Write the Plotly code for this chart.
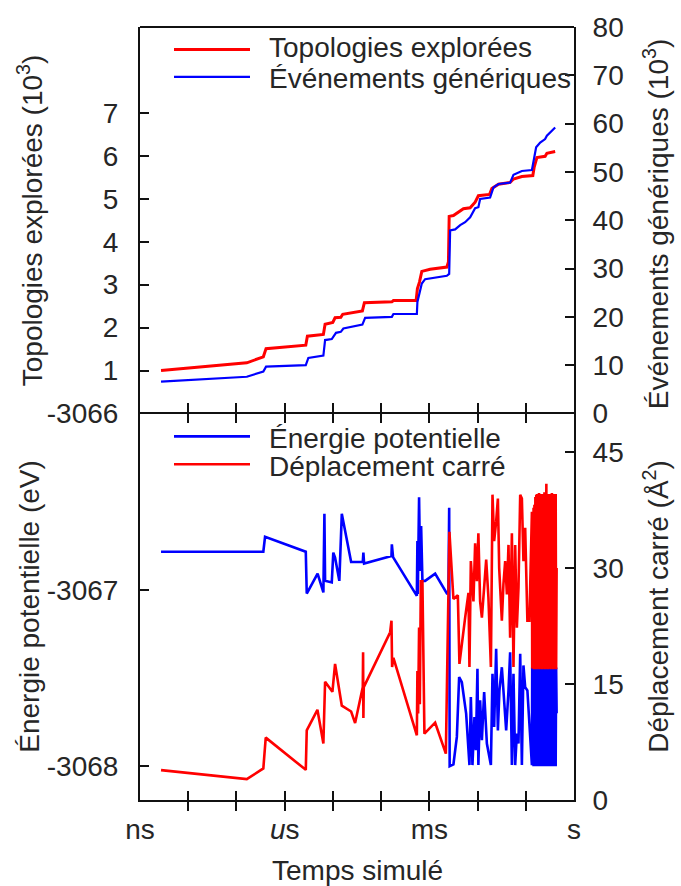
import plotly.graph_objects as go

# ---------------- data ----------------
# top panel: topologies explored (10^3) and generic events (10^3) vs simulated time (s)
t_topo = [2.73e-9, 1.64e-7, 3.61e-7, 4.11e-7, 2.74e-6, 2.96e-6, 6.35e-6, 6.89e-6, 9.95e-6, 1.11e-5,
          1.46e-5, 1.60e-5, 4.09e-5, 4.50e-5, 1.67e-4, 1.80e-4, 5.32e-4, 5.66e-4, 6.24e-4, 6.98e-4,
          1.04e-3, 2.31e-3, 2.49e-3, 2.58e-3, 3.16e-3, 4.36e-3, 5.09e-3, 7.02e-3, 8.91e-3, 1.04e-2,
          1.77e-2, 1.98e-2, 2.72e-2, 4.74e-2, 5.56e-2, 8.30e-2, 0.140, 0.149, 0.170, 0.252,
          0.274, 0.407]
topologies = [1.00, 1.18, 1.32, 1.51, 1.59, 1.80, 1.84, 2.08, 2.12, 2.23,
              2.24, 2.31, 2.39, 2.58, 2.60, 2.63, 2.63, 2.91, 3.06, 3.31,
              3.36, 3.41, 3.53, 4.59, 4.61, 4.73, 4.77, 4.79, 4.92, 5.07,
              5.10, 5.24, 5.34, 5.38, 5.46, 5.52, 5.54, 5.73, 5.96, 5.99,
              6.06, 6.10]

t_events = [2.73e-9, 1.64e-7, 3.61e-7, 4.11e-7, 2.74e-6, 3.10e-6, 6.35e-6, 6.89e-6, 9.48e-6, 1.16e-5,
            1.46e-5, 1.65e-5, 4.09e-5, 4.66e-5, 1.67e-4, 1.80e-4, 5.51e-4, 5.66e-4, 6.98e-4, 8.18e-4,
            2.31e-3, 2.58e-3, 2.70e-3, 3.43e-3, 4.36e-3, 5.53e-3, 7.02e-3, 8.91e-3, 1.04e-2, 1.13e-2,
            1.82e-2, 2.14e-2, 2.72e-2, 4.74e-2, 5.56e-2, 8.30e-2, 0.134, 0.145, 0.164, 0.199,
            0.252, 0.274, 0.407]
events = [6.6, 7.6, 8.7, 9.7, 10.0, 11.5, 12.0, 15.2, 15.4, 16.7,
          16.9, 17.6, 18.4, 19.8, 20.0, 20.6, 20.6, 23.1, 26.9, 27.8,
          28.5, 28.9, 37.9, 38.1, 39.0, 39.6, 40.6, 42.5, 42.7, 44.4,
          44.7, 46.8, 47.5, 47.8, 49.4, 50.2, 50.4, 52.0, 55.1, 56.1,
          56.8, 57.5, 59.2]

# bottom panel: potential energy (eV) and squared displacement (A^2)
t_energy = [2.73e-9, 3.61e-7, 3.92e-7, 2.74e-6, 2.87e-6, 4.82e-6, 6.35e-6, 6.67e-6, 6.89e-6, 9.48e-6,
            1.02e-5, 1.11e-5, 1.36e-5, 1.53e-5, 2.39e-5, 4.17e-5, 4.29e-5, 4.44e-5, 1.64e-4, 1.67e-4,
            1.77e-4, 5.51e-4, 5.66e-4, 5.76e-4, 6.13e-4, 6.44e-4, 6.76e-4, 7.19e-4, 8.18e-4, 1.32e-3,
            2.31e-3, 2.49e-3, 2.58e-3, 2.64e-3, 3.16e-3, 3.72e-3, 4.15e-3, 4.72e-3, 5.80e-3, 6.79e-3,
            7.26e-3, 7.84e-3, 8.62e-3, 9.22e-3, 9.95e-3, 1.04e-2, 1.13e-2, 1.23e-2, 1.37e-2, 1.56e-2,
            1.89e-2, 2.04e-2, 2.21e-2, 2.43e-2, 2.64e-2, 2.84e-2, 3.19e-2, 3.56e-2, 3.92e-2, 4.38e-2,
            4.74e-2, 5.15e-2, 5.56e-2, 6.03e-2, 6.53e-2, 7.06e-2, 7.66e-2, 8.30e-2, 8.95e-2, 9.72e-2,
            0.108, 0.134]
energy = [-3066.784, -3066.784, -3066.699, -3066.784, -3067.021, -3066.908, -3067.015, -3066.569, -3066.949, -3066.958,
          -3066.789, -3066.817, -3066.949, -3066.569, -3066.842, -3066.842, -3066.789, -3066.851, -3066.808, -3066.742,
          -3066.815, -3067.034, -3066.723, -3067.024, -3066.475, -3066.893, -3066.638, -3066.949, -3066.949, -3066.908,
          -3067.021, -3067.021, -3066.535, -3068.000, -3067.990, -3067.834, -3067.495, -3067.524, -3067.702, -3067.994,
          -3067.608, -3067.994, -3067.721, -3067.910, -3067.448, -3067.994, -3067.627, -3067.853, -3067.580, -3067.872,
          -3067.994, -3067.476, -3067.778, -3067.335, -3067.797, -3067.571, -3067.439, -3067.665, -3067.797, -3067.571,
          -3067.354, -3067.994, -3067.476, -3067.994, -3067.815, -3067.872, -3067.363, -3067.994, -3067.429, -3067.552,
          -3067.571, -3067.994]

t_disp = [2.73e-9, 1.64e-7, 3.61e-7, 4.05e-7, 2.74e-6, 2.87e-6, 4.78e-6, 6.35e-6, 6.89e-6, 9.77e-6,
          1.11e-5, 1.53e-5, 2.39e-5, 2.89e-5, 4.17e-5, 4.23e-5, 4.29e-5, 4.37e-5, 1.54e-4, 1.64e-4,
          1.69e-4, 1.80e-4, 5.51e-4, 5.66e-4, 5.86e-4, 6.13e-4, 6.35e-4, 6.67e-4, 7.19e-4, 7.91e-4,
          1.32e-3, 2.20e-3, 2.61e-3, 3.16e-3, 3.90e-3, 4.21e-3, 5.53e-3, 6.48e-3, 6.79e-3, 7.26e-3,
          8.22e-3, 8.91e-3, 9.67e-3, 1.04e-2, 1.13e-2, 1.23e-2, 1.37e-2, 1.51e-2, 1.68e-2, 1.89e-2,
          2.04e-2, 2.21e-2, 2.43e-2, 2.64e-2, 2.81e-2, 3.19e-2, 3.44e-2, 3.74e-2, 4.06e-2, 4.38e-2,
          4.74e-2, 5.15e-2, 5.56e-2, 6.03e-2, 6.53e-2, 7.06e-2, 7.66e-2, 8.30e-2, 8.95e-2, 9.72e-2,
          0.108, 0.119, 0.134]
displacement = [3.86, 2.70, 4.08, 8.07, 3.90, 9.0, 11.67, 7.3, 15.3, 14.0,
                17.6, 12.2, 11.45, 9.95, 14.6, 19.1, 10.6, 14.6, 21.7, 23.2,
                17.2, 18.4, 8.37, 16.7, 11.2, 22.3, 12.4, 28.3, 28.3, 8.58,
                10.0, 6.0, 34.7, 26.0, 26.5, 17.6, 23.6, 26.8, 17.2, 30.9,
                25.7, 33.2, 28.3, 34.5, 25.7, 23.6, 27.5, 31.1, 26.2, 17.2,
                39.5, 33.5, 36.0, 39.0, 30.0, 23.2, 27.9, 30.9, 26.6, 33.0,
                21.0, 34.5, 17.2, 33.0, 22.3, 27.5, 39.5, 39.0, 30.9, 35.2,
                23.2, 23.2, 37.3]

# final, densely sampled stretch (shared times)
t_dense = [0.136, 0.139, 0.142, 0.145, 0.148, 0.151, 0.154, 0.158, 0.161, 0.165,
           0.168, 0.172, 0.176, 0.180, 0.184, 0.188, 0.192, 0.196, 0.200, 0.205,
           0.209, 0.214, 0.219, 0.224, 0.229, 0.234, 0.239, 0.244, 0.250, 0.255,
           0.261, 0.267, 0.273, 0.279, 0.285, 0.292, 0.298, 0.305, 0.312, 0.319,
           0.326, 0.333, 0.341, 0.348, 0.356, 0.364, 0.373, 0.381, 0.390, 0.399,
           0.408, 0.417, 0.426, 0.436]
energy_dense = [-3067.44, -3067.99, -3067.45, -3068.00, -3067.44, -3067.99, -3067.45, -3068.00, -3067.44, -3067.99,
                -3067.45, -3068.00, -3067.44, -3067.99, -3067.45, -3068.00, -3067.44, -3067.99, -3067.45, -3068.00,
                -3067.44, -3067.99, -3067.45, -3068.00, -3067.44, -3067.99, -3067.45, -3068.00, -3067.44, -3067.99,
                -3067.45, -3068.00, -3067.44, -3067.99, -3067.45, -3068.00, -3067.44, -3067.99, -3067.45, -3068.00,
                -3067.44, -3067.99, -3067.45, -3068.00, -3067.44, -3067.99, -3067.45, -3068.00, -3067.44, -3067.99,
                -3067.45, -3068.00, -3067.44, -3067.70]
disp_dense = [17.0, 36.5, 17.2, 37.8, 16.9, 38.2, 17.0, 39.2, 17.1, 39.5,
              16.9, 39.6, 17.0, 39.4, 17.0, 39.7, 16.9, 39.5, 17.1, 39.6,
              17.0, 39.3, 16.9, 39.6, 17.0, 39.5, 17.0, 39.8, 16.9, 39.6,
              17.0, 40.9, 17.1, 39.5, 16.9, 39.6, 17.0, 39.4, 17.0, 39.6,
              16.9, 39.5, 17.1, 39.7, 17.0, 39.5, 16.9, 39.6, 17.0, 39.4,
              17.0, 39.6, 16.9, 30.0]

x_label_vals = [1e-9, 1e-6, 1e-3, 1]
x_label_text = ["ns", "<i>u</i>s", "ms", "s"]
topo_ticks = [1, 2, 3, 4, 5, 6, 7]
event_ticks = [0, 10, 20, 30, 40, 50, 60, 70, 80]
energy_ticks = [-3068, -3067, -3066]
disp_ticks = [0, 15, 30, 45]

RED = "#ff0000"
BLUE = "#0000ff"
INK = "#262626"
FRAME = "#111111"
FONT = "Liberation Sans, Arial, Helvetica, sans-serif"
FS = 28

fig = go.Figure()

# top panel
fig.add_trace(go.Scatter(x=t_topo, y=topologies, mode="lines", line=dict(color=RED, width=3),
                         xaxis="x2", yaxis="y3", name="Topologies explorées"))
fig.add_trace(go.Scatter(x=t_events, y=events, mode="lines", line=dict(color=BLUE, width=2.2),
                         xaxis="x2", yaxis="y4", name="Événements génériques"))
# bottom panel
fig.add_trace(go.Scatter(x=t_energy + t_dense, y=energy + energy_dense, mode="lines",
                         line=dict(color=BLUE, width=2.6), xaxis="x", yaxis="y",
                         name="Énergie potentielle"))
fig.add_trace(go.Scatter(x=t_disp + t_dense, y=displacement + disp_dense, mode="lines",
                         line=dict(color=RED, width=2.6), xaxis="x", yaxis="y2",
                         name="Déplacement carré"))
# invisible carrier so the label-only x axis is drawn
fig.add_trace(go.Scatter(x=x_label_vals, y=[-3067, -3067, -3067, -3067], mode="markers",
                         marker=dict(opacity=0), xaxis="x3", yaxis="y", hoverinfo="skip",
                         showlegend=False))

axis_common = dict(showgrid=False, zeroline=False, showline=True, linecolor=FRAME, linewidth=2,
                   tickcolor=FRAME, tickwidth=1.5, ticklen=9, ticks="inside",
                   tickfont=dict(family=FONT, size=FS, color=INK))

fig.update_layout(
    width=681, height=886,
    margin=dict(l=140, r=107, t=24, b=86),
    paper_bgcolor="white", plot_bgcolor="white",
    showlegend=False,
    font=dict(family=FONT, size=FS, color=INK),
    # bottom x axis: a tick every decade, mirrored on the top edge of the lower panel
    xaxis=dict(axis_common, type="log", range=[-9, 0], domain=[0, 1], anchor="y",
               dtick=1, showticklabels=False, mirror="allticks"),
    # labels only at ns / us / ms / s
    xaxis3=dict(type="log", range=[-9, 0], overlaying="x", anchor="y", side="bottom",
                showgrid=False, zeroline=False, showline=False, ticks="",
                tickvals=x_label_vals, ticktext=x_label_text, ticklabelstandoff=10,
                tickfont=dict(family=FONT, size=FS, color=INK)),
    # top panel x axis: only its top edge is drawn (shape below)
    xaxis2=dict(type="log", range=[-9, 0], domain=[0, 1], anchor="y3", matches="x",
                showgrid=False, zeroline=False, showline=False, ticks="", showticklabels=False),
    yaxis=dict(axis_common, domain=[0, 0.5], anchor="x", range=[-3068.192, -3066],
               tickvals=energy_ticks, ticktext=[str(v) for v in energy_ticks],
               ticklabelstandoff=14),
    yaxis2=dict(axis_common, overlaying="y", side="right", anchor="x", range=[0, 50],
                tickvals=disp_ticks, ticklabelstandoff=11),
    yaxis3=dict(axis_common, domain=[0.5, 1], anchor="x2", range=[0, 9],
                tickvals=topo_ticks, ticklabelstandoff=14),
    yaxis4=dict(axis_common, overlaying="y3", side="right", anchor="x2", range=[0, 80],
                tickvals=event_ticks, ticklabelstandoff=11),
)

# top edge of the upper panel
fig.add_shape(type="line", xref="paper", yref="paper", x0=0, x1=1, y0=1, y1=1,
              line=dict(color=FRAME, width=2))

# axis titles
pw = 681 - 140 - 107
ph = 886 - 24 - 86
titles = [
    ("Topologies explorées (10<sup>3</sup>)", 30, 218),
    ("Énergie potentielle (eV)", 30, 606),
    ("Événements génériques (10<sup>3</sup>)", 656, 222),
    ("Déplacement carré (Å<sup>2</sup>)", 656, 606),
]
for text, px, py in titles:
    fig.add_annotation(text=text, xref="paper", yref="paper",
                       x=(px - 140) / pw, y=(800 - py) / ph, xanchor="center", yanchor="middle",
                       textangle=-90, showarrow=False, font=dict(family=FONT, size=FS, color=INK))
fig.add_annotation(text="Temps simulé", xref="paper", yref="paper",
                   x=0.5, y=(800 - 871) / ph, xanchor="center", yanchor="middle",
                   showarrow=False, font=dict(family=FONT, size=FS, color=INK))

# legends (key lines + labels)
legend_items = [
    ("Topologies explorées", RED, 3, 46.5, 45),
    ("Événements génériques", BLUE, 2.2, 74, 76),
    ("Énergie potentielle", BLUE, 2.6, 435, 437),
    ("Déplacement carré", RED, 2.6, 463, 465),
]
for text, col, w, ly, ty in legend_items:
    fig.add_shape(type="line", xref="paper", yref="paper",
                  x0=(174 - 140) / pw, x1=(250 - 140) / pw,
                  y0=(800 - ly) / ph, y1=(800 - ly) / ph,
                  line=dict(color=col, width=w))
    fig.add_annotation(text=text, xref="paper", yref="paper",
                       x=(267 - 140) / pw, y=(800 - ty) / ph, xanchor="left", yanchor="middle",
                       showarrow=False, font=dict(family=FONT, size=FS, color=INK))

fig.write_html("out.html")
